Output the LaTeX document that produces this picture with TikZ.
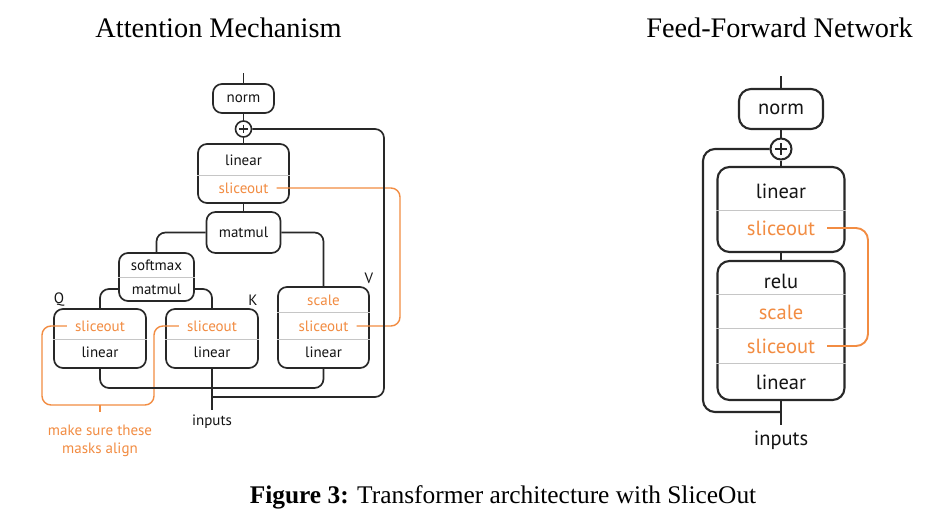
\documentclass[tikz,border=0pt]{standalone}
\usepackage{fontspec}
\setmainfont{Liberation Serif}
\setsansfont{PT Sans}
\usepackage{tikz}
\usetikzlibrary{
    positioning,
    calc
}
\definecolor{sliceorange}{RGB}{242,140,66}
\definecolor{wiregray}{RGB}{40,40,40}
\newcommand{\attfont}{\sffamily\fontsize{15}{18}\selectfont}
\newcommand{\ffnfont}{\sffamily\fontsize{20.5}{24}\selectfont}
\tikzstyle{block} = [
    rectangle,
    rounded corners=9pt,
    draw=wiregray,
    line width=1.7pt,
    fill=white,
    inner sep=0pt,
    text=black!92,
    font=\attfont
]
\tikzstyle{bigblock} = [
    block,
    rounded corners=12pt,
    line width=2.1pt,
    font=\ffnfont
]
\tikzstyle{cell} = [
    inner ysep=1pt,
    inner xsep=8pt,
    text=black!92,
    font=\attfont
]
\tikzstyle{slice} = [cell, text=sliceorange]
\tikzstyle{bigcell} = [cell, inner xsep=12pt, font=\ffnfont]
\tikzstyle{bigslice} = [bigcell, text=sliceorange]
\tikzstyle{split} = [draw=gray!45, line width=1pt]
\tikzstyle{wire} = [
    draw=wiregray,
    line width=1.7pt,
    rounded corners=9pt
]
\tikzstyle{bigwire} = [wire, line width=2.1pt, rounded corners=12pt]
\tikzstyle{mask} = [
    draw=sliceorange,
    line width=1.4pt,
    rounded corners=9pt
]
\tikzstyle{bigmask} = [mask, line width=1.9pt, rounded corners=12pt]
\tikzstyle{plus} = [
    circle,
    draw=wiregray,
    line width=1.6pt,
    fill=white,
    inner sep=0pt,
    minimum size=16pt,
    path picture={
        \draw[line width=1.5pt]
            ($(path picture bounding box.west)!0.22!(path picture bounding box.east)$) --
            ($(path picture bounding box.west)!0.78!(path picture bounding box.east)$)
            ($(path picture bounding box.north)!0.22!(path picture bounding box.south)$) --
            ($(path picture bounding box.north)!0.78!(path picture bounding box.south)$);
    }
]
\tikzstyle{heading} = [font=\fontsize{28.3}{31}\selectfont]

\begin{document}
\begin{tikzpicture}[x=1pt, y=-1pt]
        \fill[white] (0,0) rectangle (942,525);
        \useasboundingbox (0,0) rectangle (942,525);

        % Titles
        \node[heading] (atitle) at (218.5,28) {Attention Mechanism};
        \node[heading] (ftitle) at (779.5,28) {Feed-Forward Network};

        % Attention: output path
        \coordinate (atop) at (243.5,73);
        \node[block, minimum width=61pt, minimum height=29pt] (anorm) at (243.5,98.5) {norm};
        \node[plus] (aplus) at (243.5,129) {};
        \node[block, minimum width=91pt, minimum height=59pt] (aout) at (243.5,173.5) {};
        \node[cell] (aoutlin) at (243.5,160) {linear};
        \node[slice] (aoutsl) at (243.5,188) {sliceout};
        \draw[split] (aout.west |- 0,175) -- (aout.east |- 0,175);
        \node[block, minimum width=74pt, minimum height=41pt] (amat) at (243.5,232.5) {matmul};

        % Attention: scores
        \node[block, minimum width=75pt, minimum height=48pt] (asoft) at (156.5,277) {};
        \node[cell] (asoftsm) at (156.5,265) {softmax};
        \node[cell] (asoftmm) at (156.5,289) {matmul};
        \draw[split] (asoft.west |- 0,277) -- (asoft.east |- 0,277);

        % Attention: Q, K, V
        \node[block, minimum width=92pt, minimum height=59pt] (qbox) at (100,338.5) {};
        \node[slice] (qsl) at (100,326) {sliceout};
        \node[cell] (qlin) at (100,352) {linear};
        \draw[split] (qbox.west |- 0,339) -- (qbox.east |- 0,339);
        \node[cell, inner sep=0pt] (qlab) at (59,300) {Q};

        \node[block, minimum width=92pt, minimum height=59pt] (kbox) at (212,338.5) {};
        \node[slice] (ksl) at (212,326) {sliceout};
        \node[cell] (klin) at (212,352) {linear};
        \draw[split] (kbox.west |- 0,339) -- (kbox.east |- 0,339);
        \node[cell, inner sep=0pt] (klab) at (253,300) {K};

        \node[block, minimum width=91pt, minimum height=81pt] (vbox) at (323.5,327.5) {};
        \node[slice] (vsc) at (323.5,300) {scale};
        \node[slice] (vsl) at (323.5,326) {sliceout};
        \node[cell] (vlin) at (323.5,352) {linear};
        \draw[split] (vbox.west |- 0,312.5) -- (vbox.east |- 0,312.5);
        \draw[split] (vbox.west |- 0,339) -- (vbox.east |- 0,339);
        \node[cell, inner sep=0pt] (vlab) at (369,278) {V};

        \node[cell, inner ysep=5pt] (ain) at (212,422) {inputs};

        % Attention: masks
        \coordinate (amaskr) at (400,0);
        \coordinate (abrkl) at (42,405);
        \coordinate (abrkr) at (154,405);
        \coordinate (astem) at (100,412);
        \draw[mask] (aoutsl.east) -| (amaskr |- vsl.east) -- (vsl.east);
        \draw[mask] (qsl.west) -| (abrkl) -- (abrkr) |- (ksl.west);
        \draw[mask] (astem |- abrkl) -- (astem);
        \node[slice, align=center] (anote) at (100,441) {make sure these\\masks align};

        % Attention: wires
        \coordinate (abus) at (0,388);
        \coordinate (aresid) at (384,397);
        \draw[wire] (atop) -- (anorm);
        \draw[wire] (anorm) -- (aplus);
        \draw[wire] (aplus) -- (aout);
        \draw[wire] (aout) -- (amat);
        \draw[wire] (amat.west) -| (asoft.north);
        \draw[wire] (amat.east) -| (vbox.north);
        \draw[wire] (qbox.north) |- (asoft.west |- asoftmm);
        \draw[wire] (kbox.north) |- (asoft.east |- asoftmm);
        \draw[wire] (qbox.south) |- (vbox.south |- abus) -- (vbox.south);
        \draw[wire] (kbox.south) -- (ain.north);
        \draw[wire] (kbox.south |- aresid) -| (aplus.east -| aresid) -- (aplus.east);

        % Feed-forward network
        \coordinate (ftop) at (781,76);
        \node[bigblock, minimum width=84pt, minimum height=40pt] (fnorm) at (781,109) {norm};
        \node[plus, line width=2pt, minimum size=21pt] (fplus) at (781,149) {};
        \node[bigblock, minimum width=127pt, minimum height=85pt] (fout) at (781,209.5) {};
        \node[bigcell] (foutlin) at (781,191) {linear};
        \node[bigslice] (foutsl) at (781,228) {sliceout};
        \draw[split] (fout.west |- 0,210) -- (fout.east |- 0,210);

        \node[bigblock, minimum width=127pt, minimum height=139pt] (fhid) at (781,330.5) {};
        \node[bigcell] (fhidrelu) at (781,281) {relu};
        \node[bigslice] (fhidsc) at (781,312) {scale};
        \node[bigslice] (fhidsl) at (781,346) {sliceout};
        \node[bigcell] (fhidlin) at (781,382) {linear};
        \draw[split] (fhid.west |- 0,294) -- (fhid.east |- 0,294);
        \draw[split] (fhid.west |- 0,328) -- (fhid.east |- 0,328);
        \draw[split] (fhid.west |- 0,363) -- (fhid.east |- 0,363);

        \node[bigcell, inner ysep=5pt] (finput) at (781,440) {inputs};

        \coordinate (fmaskr) at (868,0);
        \coordinate (fresid) at (703,412);
        \draw[bigmask] (foutsl.east) -| (fmaskr |- fhidsl.east) -- (fhidsl.east);
        \draw[bigwire] (ftop) -- (fnorm);
        \draw[bigwire] (fnorm) -- (fplus);
        \draw[bigwire] (fplus) -- (fout);
        \draw[bigwire] (fout) -- (fhid);
        \draw[bigwire] (fhid) -- (finput);
        \draw[bigwire] (fhid.south |- fresid) -| (fplus.west -| fresid) -- (fplus.west);

        % Caption
        \node[font=\fontsize{25.4}{28}\selectfont] (caption) at (503,497) {\textbf{Figure 3:} Transformer architecture with SliceOut};
    \end{tikzpicture}
\end{document}
